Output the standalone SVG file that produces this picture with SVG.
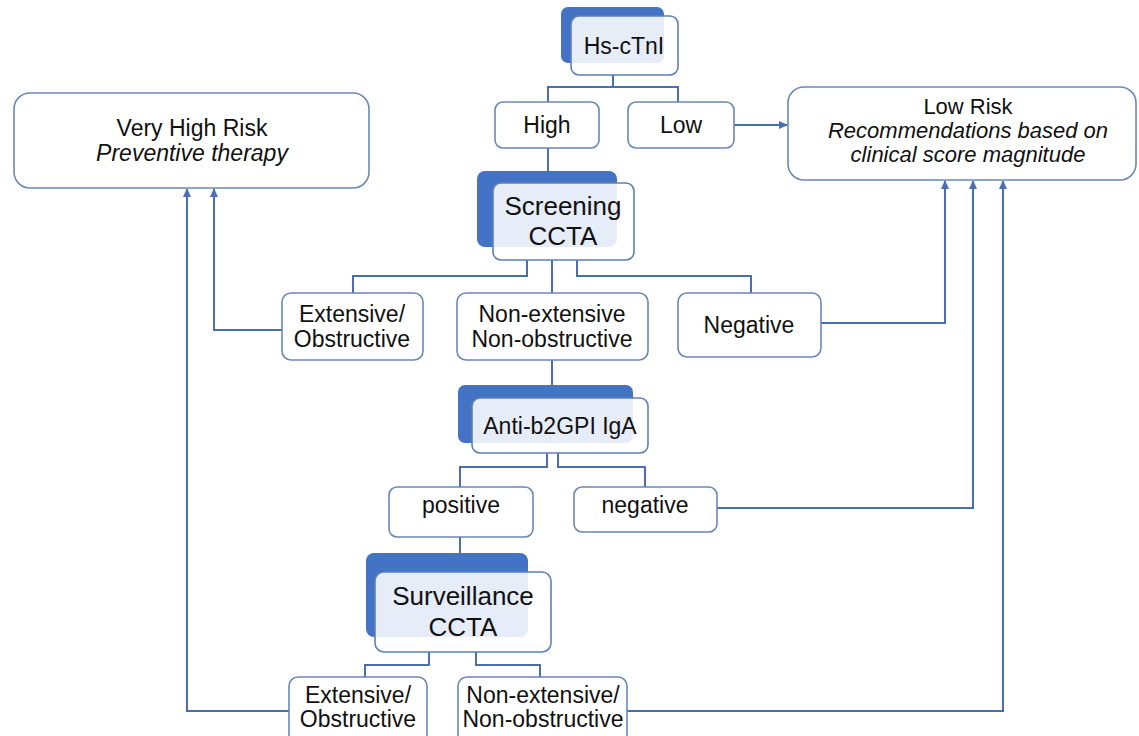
<svg xmlns="http://www.w3.org/2000/svg" width="1139" height="736" viewBox="0 0 1139 736">
<style>
text{font-family:"Liberation Sans",Arial,sans-serif;fill:#111;text-anchor:middle}
.t{font-size:23px}
.s{font-size:22px}
.tb{font-size:26px}
.i{font-style:italic}
.box{fill:#fff;stroke:#6a88b6;stroke-width:1.6}
.back{fill:#4472c4}
.front{fill:#fff;fill-opacity:0.87;stroke:#5f80b4;stroke-width:1.6}
.c{fill:none;stroke:#4a6fb0;stroke-width:2}
</style>
<defs>
<marker id="ah" markerWidth="10" markerHeight="10" refX="8" refY="5" orient="auto" markerUnits="userSpaceOnUse">
<path d="M0,1 L9,5 L0,9 Z" fill="#4a6fb0"/>
</marker>
</defs>
<rect width="1139" height="736" fill="#fff"/>
<g id="connectors">
<path class="c" d="M613,75 V87 M548,102 V87 H678 V102"/>
<path class="c" d="M548,148 V172"/>
<path class="c" d="M527,260 V276 H353 V293 M552,260 V293 M577,260 V276 H751 V293"/>
<path class="c" d="M552,360 V386"/>
<path class="c" d="M547,453 V467 H460 V487 M558,453 V467 H645 V487"/>
<path class="c" d="M460,537 V554"/>
<path class="c" d="M429,652 V665 H365 V677 M476,652 V665 H540 V677"/>
<path class="c" d="M734,125 H787" marker-end="url(#ah)"/>
<path class="c" d="M282,330 H214 V189" marker-end="url(#ah)"/>
<path class="c" d="M289,711 H187 V189" marker-end="url(#ah)"/>
<path class="c" d="M821,323 H945 V181" marker-end="url(#ah)"/>
<path class="c" d="M717,508 H973 V181" marker-end="url(#ah)"/>
<path class="c" d="M627,711 H1003 V181" marker-end="url(#ah)"/>
</g>
<g id="very-high-risk">
<rect class="box" x="14" y="93" width="355" height="95" rx="16"/>
<text class="t" x="192" y="136">Very High Risk</text>
<text class="t i" x="192" y="161">Preventive therapy</text>
</g>
<g id="low-risk">
<rect class="box" x="788" y="87" width="348" height="93" rx="16"/>
<text class="s" x="968" y="114">Low Risk</text>
<text class="s i" x="968" y="138">Recommendations based on</text>
<text class="s i" x="968" y="162">clinical score magnitude</text>
</g>
<g id="hs-ctni">
<rect class="back" x="561" y="7" width="103" height="56" rx="7"/>
<rect class="front" x="571" y="16" width="107" height="59" rx="8"/>
<text class="t" x="624" y="54">Hs-cTnI</text>
</g>
<g id="high">
<rect class="box" x="495" y="102" width="104" height="46" rx="8"/>
<text class="t" x="547" y="133">High</text>
</g>
<g id="low">
<rect class="box" x="628" y="102" width="106" height="46" rx="8"/>
<text class="t" x="681" y="133">Low</text>
</g>
<g id="screening">
<rect class="back" x="477" y="171" width="140" height="76" rx="8"/>
<rect class="front" x="493" y="183" width="141" height="77" rx="8"/>
<text class="tb" x="563" y="215">Screening</text>
<text class="tb" x="563" y="245">CCTA</text>
</g>
<g id="extensive-1">
<rect class="box" x="282" y="293" width="141" height="67" rx="9"/>
<text class="t" x="352" y="322">Extensive/</text>
<text class="t" x="352" y="347">Obstructive</text>
</g>
<g id="nonextensive-1">
<rect class="box" x="457" y="293" width="191" height="67" rx="9"/>
<text class="t" x="552" y="322">Non-extensive</text>
<text class="t" x="552" y="347">Non-obstructive</text>
</g>
<g id="negative-ccta">
<rect class="box" x="678" y="293" width="143" height="64" rx="9"/>
<text class="t" x="749" y="333">Negative</text>
</g>
<g id="anti-b2gpi">
<rect class="back" x="458" y="385" width="175" height="58" rx="7"/>
<rect class="front" x="472" y="398" width="176" height="55" rx="8"/>
<text class="t" x="560" y="434">Anti-b2GPI IgA</text>
</g>
<g id="positive">
<rect class="box" x="389" y="487" width="144" height="50" rx="8"/>
<text class="t" x="461" y="513">positive</text>
</g>
<g id="negative">
<rect class="box" x="574" y="487" width="143" height="45" rx="8"/>
<text class="t" x="645" y="513">negative</text>
</g>
<g id="surveillance">
<rect class="back" x="366" y="553" width="162" height="84" rx="8"/>
<rect class="front" x="375" y="572" width="176" height="80" rx="9"/>
<text class="tb" x="463" y="605">Surveillance</text>
<text class="tb" x="463" y="636">CCTA</text>
</g>
<g id="extensive-2">
<rect class="box" x="289" y="677" width="138" height="70" rx="9"/>
<text class="t" x="358" y="703">Extensive/</text>
<text class="t" x="358" y="727">Obstructive</text>
</g>
<g id="nonextensive-2">
<rect class="box" x="458" y="677" width="169" height="70" rx="9"/>
<text class="t" x="543" y="703">Non-extensive/</text>
<text class="t" x="543" y="727">Non-obstructive</text>
</g>
</svg>
